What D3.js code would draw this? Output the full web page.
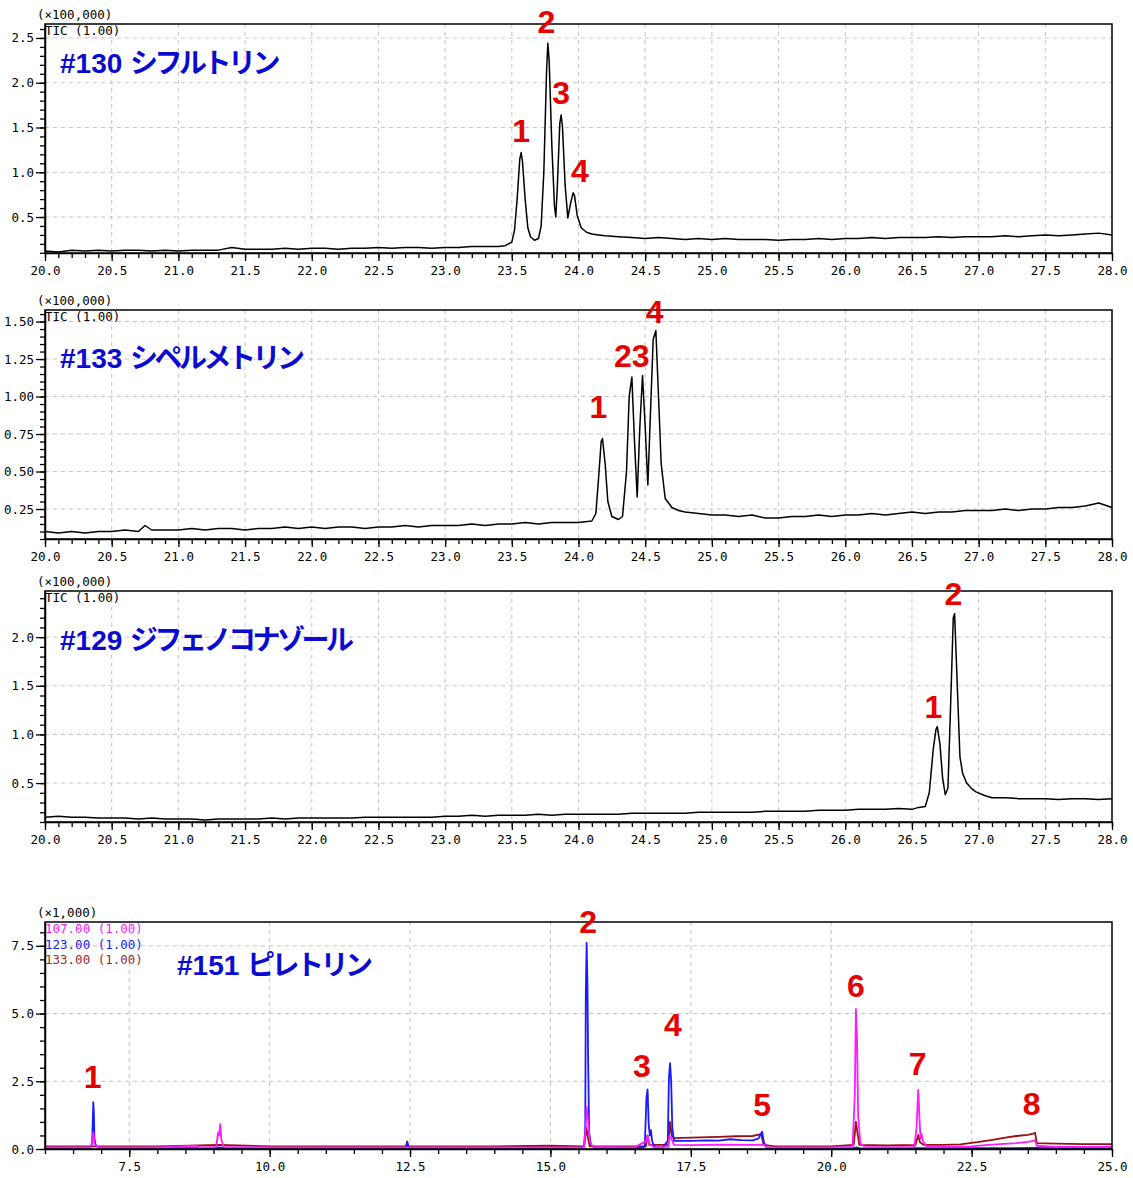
<!DOCTYPE html>
<html>
<head>
<meta charset="utf-8">
<script src="https://cdn.jsdelivr.net/npm/d3@7"></script>
<style>
  body { margin: 0; background: #fff; }
  .tick text, .lab { font-family: "DejaVu Sans Mono", monospace; font-size: 12.5px; fill: #000; }
  .title { font-family: "Liberation Sans", "Noto Sans CJK JP", sans-serif; fill: #0a0ad2; font-weight: bold; }
  .kana { font-family: "Noto Sans CJK JP", sans-serif; font-weight: 700; }
  .peak { font-family: "Liberation Sans", Arial, sans-serif; font-size: 32px; fill: #e60000; font-weight: bold; }
</style>
</head>
<body>
<svg id="chart" width="1133" height="1178"></svg>
<script>
// --- data (time in min, intensity in axis units) ---
const tic130 = [
  [20.0,0.12],[20.1,0.11],[20.2,0.13],[20.3,0.12],[20.4,0.13],[20.5,0.12],[20.6,0.13],[20.7,0.13],
  [20.8,0.12],[20.9,0.13],[21.0,0.12],[21.1,0.13],[21.2,0.13],[21.3,0.13],[21.4,0.16],[21.5,0.14],
  [21.6,0.14],[21.7,0.14],[21.8,0.15],[21.9,0.14],[22.0,0.15],[22.1,0.15],[22.2,0.14],[22.3,0.15],
  [22.4,0.15],[22.5,0.16],[22.6,0.15],[22.7,0.16],[22.8,0.16],[22.9,0.15],[23.0,0.16],[23.1,0.16],
  [23.2,0.17],[23.3,0.17],[23.4,0.17],[23.45,0.18],[23.5,0.22],[23.52,0.35],[23.54,0.70],[23.56,1.15],
  [23.57,1.22],[23.58,1.12],[23.60,0.70],[23.62,0.38],[23.64,0.28],[23.67,0.24],[23.70,0.26],[23.72,0.40],
  [23.74,1.00],[23.76,2.10],[23.77,2.44],[23.78,2.25],[23.80,1.30],[23.82,0.62],[23.83,0.50],[23.84,0.80],
  [23.86,1.55],[23.87,1.64],[23.88,1.50],[23.90,0.85],[23.92,0.49],[23.94,0.65],[23.96,0.77],[23.97,0.74],
  [23.99,0.52],[24.02,0.38],[24.06,0.33],[24.1,0.31],[24.15,0.30],[24.2,0.29],[24.3,0.28],[24.4,0.27],
  [24.5,0.26],[24.6,0.27],[24.7,0.26],[24.8,0.25],[24.9,0.26],[25.0,0.25],[25.1,0.26],[25.2,0.25],
  [25.3,0.25],[25.4,0.25],[25.5,0.24],[25.6,0.25],[25.7,0.25],[25.8,0.26],[25.9,0.25],[26.0,0.26],
  [26.1,0.26],[26.2,0.27],[26.3,0.26],[26.4,0.27],[26.5,0.27],[26.6,0.27],[26.7,0.28],[26.8,0.27],
  [26.9,0.28],[27.0,0.28],[27.1,0.28],[27.2,0.29],[27.3,0.28],[27.4,0.29],[27.5,0.30],[27.6,0.29],
  [27.7,0.30],[27.8,0.31],[27.9,0.32],[28.0,0.30]
];
const tic133 = [
  [20.0,0.10],[20.1,0.09],[20.2,0.10],[20.3,0.09],[20.4,0.10],[20.5,0.10],[20.6,0.11],[20.7,0.10],
  [20.75,0.14],[20.8,0.11],[20.9,0.11],[21.0,0.11],[21.1,0.12],[21.2,0.11],[21.3,0.12],[21.4,0.12],
  [21.5,0.11],[21.6,0.12],[21.7,0.12],[21.8,0.13],[21.9,0.12],[22.0,0.13],[22.1,0.12],[22.2,0.13],
  [22.3,0.13],[22.4,0.12],[22.5,0.13],[22.6,0.13],[22.7,0.14],[22.8,0.13],[22.9,0.14],[23.0,0.14],
  [23.1,0.14],[23.2,0.15],[23.3,0.14],[23.4,0.15],[23.5,0.15],[23.6,0.16],[23.7,0.15],[23.8,0.16],
  [23.9,0.16],[24.0,0.16],[24.1,0.17],[24.13,0.22],[24.15,0.45],[24.17,0.70],[24.18,0.72],[24.2,0.55],
  [24.22,0.30],[24.25,0.20],[24.3,0.18],[24.33,0.20],[24.36,0.50],[24.38,1.00],[24.40,1.13],[24.42,0.70],
  [24.44,0.33],[24.46,0.80],[24.48,1.14],[24.50,0.80],[24.52,0.41],[24.54,0.90],[24.56,1.38],[24.58,1.44],
  [24.60,1.00],[24.62,0.55],[24.65,0.32],[24.7,0.26],[24.75,0.24],[24.8,0.23],[24.9,0.22],[25.0,0.21],
  [25.1,0.21],[25.2,0.20],[25.3,0.21],[25.4,0.19],[25.5,0.19],[25.6,0.20],[25.7,0.20],[25.8,0.21],
  [25.9,0.20],[26.0,0.21],[26.1,0.21],[26.2,0.22],[26.3,0.21],[26.4,0.22],[26.5,0.23],[26.6,0.22],
  [26.7,0.23],[26.8,0.23],[26.9,0.24],[27.0,0.24],[27.1,0.24],[27.2,0.25],[27.3,0.24],[27.4,0.25],
  [27.5,0.25],[27.6,0.26],[27.7,0.26],[27.8,0.27],[27.9,0.29],[28.0,0.26]
];
const tic129 = [
  [20.0,0.15],[20.1,0.16],[20.2,0.15],[20.3,0.15],[20.4,0.14],[20.5,0.14],[20.6,0.14],[20.7,0.13],
  [20.8,0.14],[20.9,0.13],[21.0,0.13],[21.1,0.13],[21.2,0.12],[21.3,0.13],[21.4,0.13],[21.5,0.13],
  [21.6,0.13],[21.7,0.14],[21.8,0.13],[21.9,0.14],[22.0,0.14],[22.1,0.14],[22.2,0.14],[22.3,0.14],
  [22.4,0.15],[22.5,0.15],[22.6,0.15],[22.7,0.15],[22.8,0.15],[22.9,0.15],[23.0,0.16],[23.1,0.16],
  [23.2,0.17],[23.3,0.16],[23.4,0.17],[23.5,0.17],[23.6,0.17],[23.7,0.18],[23.8,0.17],[23.9,0.18],
  [24.0,0.18],[24.1,0.18],[24.2,0.18],[24.3,0.18],[24.4,0.19],[24.5,0.19],[24.6,0.19],[24.7,0.19],
  [24.8,0.19],[24.9,0.20],[25.0,0.20],[25.1,0.20],[25.2,0.20],[25.3,0.20],[25.4,0.21],[25.5,0.21],
  [25.6,0.21],[25.7,0.21],[25.8,0.22],[25.9,0.22],[26.0,0.22],[26.1,0.23],[26.2,0.23],[26.3,0.23],
  [26.4,0.24],[26.5,0.23],[26.55,0.25],[26.6,0.26],[26.63,0.40],[26.66,0.85],[26.68,1.05],[26.69,1.08],
  [26.71,0.90],[26.73,0.55],[26.75,0.38],[26.77,0.45],[26.79,1.30],[26.81,2.20],[26.82,2.24],[26.84,1.50],
  [26.86,0.77],[26.88,0.60],[26.91,0.50],[26.95,0.44],[26.98,0.41],[27.05,0.37],[27.1,0.35],[27.2,0.35],
  [27.3,0.34],[27.4,0.34],[27.5,0.34],[27.6,0.33],[27.7,0.34],[27.8,0.34],[27.9,0.33],[28.0,0.34]
];
const ion133 = [
  [6.0,0.10],[7.0,0.10],[8.0,0.10],[9.1,0.15],[10.0,0.10],[11.0,0.10],[12.0,0.10],[13.0,0.10],
  [14.0,0.10],[15.0,0.12],[15.6,0.10],[15.64,0.80],[15.66,0.50],[15.7,0.10],[16.7,0.10],[16.73,0.50],
  [16.76,0.15],[17.1,0.15],[17.13,1.00],[17.16,0.50],[17.2,0.40],[17.5,0.42],[18.0,0.45],[18.3,0.47],
  [18.6,0.48],[18.75,0.55],[18.8,0.15],[19.0,0.10],[20.0,0.10],[20.4,0.15],[20.44,1.00],[20.46,0.70],
  [20.5,0.15],[21.0,0.13],[21.5,0.15],[21.55,0.52],[21.58,0.25],[21.65,0.15],[22.0,0.15],[22.3,0.17],
  [22.6,0.25],[22.9,0.35],[23.1,0.42],[23.3,0.48],[23.5,0.52],[23.6,0.57],[23.63,0.60],[23.66,0.22],
  [24.0,0.20],[24.5,0.18],[25.0,0.18]
];
const ion123 = [
  [6.0,0.03],[6.3,0.05],[6.5,0.02],[6.7,0.04],[6.82,0.03],[6.84,0.30],[6.86,1.73],[6.87,1.35],
  [6.88,0.40],[6.9,0.15],[6.95,0.06],[7.0,0.04],[7.5,0.03],[8.0,0.04],[8.5,0.03],[9.0,0.03],
  [9.1,0.06],[9.2,0.03],[10.0,0.03],[10.5,0.04],[11.0,0.03],[11.5,0.03],[12.0,0.04],[12.42,0.03],
  [12.45,0.28],[12.48,0.03],[13.0,0.03],[13.5,0.04],[14.0,0.03],[14.5,0.03],[15.0,0.04],[15.5,0.04],
  [15.6,0.08],[15.62,0.80],[15.63,5.80],[15.645,7.61],[15.66,6.00],[15.67,3.50],[15.69,0.60],[15.72,0.15],
  [15.8,0.04],[16.0,0.03],[16.5,0.04],[16.68,0.08],[16.71,1.90],[16.73,2.20],[16.75,0.90],[16.77,0.50],
  [16.79,0.70],[16.81,0.30],[16.85,0.08],[17.0,0.05],[17.09,0.30],[17.11,2.60],[17.13,3.17],[17.15,2.50],
  [17.17,0.80],[17.2,0.30],[17.5,0.30],[17.8,0.32],[18.0,0.31],[18.2,0.36],[18.4,0.33],[18.6,0.32],
  [18.7,0.38],[18.77,0.64],[18.8,0.25],[18.85,0.04],[19.0,0.03],[19.5,0.03],[20.0,0.03],[20.4,0.03],
  [20.45,0.06],[20.5,0.03],[21.0,0.02],[21.5,0.03],[22.0,0.03],[22.5,0.03],[23.0,0.03],[23.6,0.04],
  [24.0,0.03],[24.5,0.03],[25.0,0.03]
];
const ion107 = [
  [6.0,0.06],[6.5,0.06],[6.82,0.06],[6.84,0.30],[6.86,0.60],[6.88,0.20],[6.95,0.06],[7.5,0.06],
  [8.0,0.06],[8.7,0.12],[8.75,0.06],[9.05,0.08],[9.08,0.60],[9.1,0.50],[9.12,0.92],[9.14,0.35],
  [9.18,0.08],[10.0,0.06],[10.5,0.06],[11.0,0.06],[12.0,0.06],[12.5,0.06],[13.0,0.06],[14.0,0.06],
  [15.0,0.06],[15.6,0.06],[15.63,0.90],[15.645,1.55],[15.67,1.10],[15.7,0.30],[15.75,0.08],[16.5,0.06],
  [16.71,0.30],[16.73,0.50],[16.76,0.20],[16.85,0.06],[17.1,0.08],[17.12,0.50],[17.15,0.40],[17.2,0.15],
  [17.5,0.14],[18.0,0.16],[18.5,0.15],[18.8,0.16],[18.85,0.07],[19.5,0.06],[20.0,0.06],[20.38,0.08],
  [20.42,2.00],[20.44,5.17],[20.46,4.00],[20.48,1.20],[20.52,0.20],[20.6,0.08],[21.0,0.06],[21.48,0.08],
  [21.52,0.80],[21.55,2.18],[21.57,1.20],[21.59,0.40],[21.61,0.55],[21.63,0.30],[21.7,0.08],[22.0,0.08],
  [22.5,0.10],[22.8,0.15],[23.0,0.18],[23.3,0.22],[23.5,0.26],[23.6,0.30],[23.63,0.33],[23.66,0.12],
  [24.0,0.08],[24.5,0.08],[25.0,0.08]
];

const titleNums = ["#130", "#133", "#129", "#151"];
const titleNames = ["シフルトリン", "シペルメトリン", "ジフェノコナゾール", "ピレトリン"];
const scaleNotes = ["(×100,000)", "(×100,000)", "(×100,000)", "(×1,000)"];
const ionNames = ["107.00 (1.00)", "123.00 (1.00)", "133.00 (1.00)"];

// peak annotations: [label, time, intensity at label baseline]
const peaks130 = [["1",23.57,1.34],["2",23.76,2.56],["3",23.87,1.76],["4",24.01,0.89]];
const peaks133 = [["1",24.15,0.86],["23",24.40,1.20],["4",24.57,1.49]];
const peaks129 = [["1",26.66,1.17],["2",26.81,2.33]];
const peaks151 = [["1",6.85,2.25],["2",15.67,7.97],["3",16.63,2.66],["4",17.18,4.17],
                  ["5",18.77,1.22],["6",20.44,5.61],["7",21.54,2.73],["8",23.57,1.25]];

const svg = d3.select("#chart");
const left = 45, right = 1112;

function drawPanel(p) {
  const x = d3.scaleLinear().domain(p.xDomain).range([left, right]);
  const y = d3.scaleLinear().domain(p.yDomain).range([p.bottom, p.top]);
  const g = svg.append("g");

  // dashed grid
  g.selectAll(".gx").data(p.xMajor.filter(v => v > p.xDomain[0] && v < p.xDomain[1]))
    .join("line").attr("x1", d => x(d)).attr("x2", d => x(d))
    .attr("y1", p.top).attr("y2", p.bottom)
    .attr("stroke", "#c4c4c4").attr("stroke-dasharray", "4,4");
  g.selectAll(".gy").data(p.yMajor.filter(v => v > p.yDomain[0]))
    .join("line").attr("x1", left).attr("x2", right)
    .attr("y1", d => y(d)).attr("y2", d => y(d))
    .attr("stroke", "#c4c4c4").attr("stroke-dasharray", "4,4");

  // traces
  const line = d3.line().x(d => x(d[0])).y(d => y(d[1]));
  p.traces.forEach(t => {
    g.append("path").datum(t.data).attr("d", line)
      .attr("fill", "none").attr("stroke", t.color)
      .attr("stroke-width", t.width).attr("stroke-linejoin", "round");
  });

  // frame
  g.append("rect").attr("x", left).attr("y", p.top)
    .attr("width", right - left).attr("height", p.bottom - p.top)
    .attr("fill", "none").attr("stroke", "#000").attr("stroke-width", 1.5);

  // axes: minor ticks first, then majors with labels
  g.append("g").attr("transform", `translate(0,${p.bottom})`)
    .call(d3.axisBottom(x).tickValues(p.xMinor).tickSize(5).tickFormat("").tickSizeOuter(0))
    .call(a => a.select(".domain").remove());
  g.append("g").attr("transform", `translate(0,${p.bottom})`)
    .call(d3.axisBottom(x).tickValues(p.xMajor).tickSize(8).tickPadding(5)
      .tickFormat(d3.format(".1f")).tickSizeOuter(0))
    .call(a => a.select(".domain").attr("stroke", "#000").attr("stroke-width", 1.5));
  g.append("g").attr("transform", `translate(${left},0)`)
    .call(d3.axisLeft(y).tickValues(p.yMinor).tickSize(5).tickFormat("").tickSizeOuter(0))
    .call(a => a.select(".domain").remove());
  g.append("g").attr("transform", `translate(${left},0)`)
    .call(d3.axisLeft(y).tickValues(p.yMajor).tickSize(9).tickPadding(2)
      .tickFormat(d3.format(p.yFmt)).tickSizeOuter(0))
    .call(a => a.select(".domain").attr("stroke", "#000").attr("stroke-width", 1.5));
  g.selectAll(".tick line").attr("stroke", "#000").attr("stroke-width", 1.3);
  g.selectAll(".tick text").attr("font-family", null).attr("font-size", null);

  // scale note and trace legend
  g.append("text").attr("class", "lab").attr("x", left - 8).attr("y", p.top - 5).text(p.note);
  p.legend.forEach((l, i) => {
    g.append("text").attr("class", "lab").attr("x", left).attr("y", p.top + 11 + i * 15.5)
      .style("fill", l.color).text(l.text);
  });

  // compound title
  const tt = g.append("text").attr("class", "title").attr("x", p.titleX).attr("y", p.titleY)
    .attr("font-size", 28);
  tt.append("tspan").text(p.num + " ");
  tt.append("tspan").attr("class", "kana").attr("letter-spacing", -3.5).text(p.name);

  // peak numbers
  g.selectAll(".peak").data(p.peaks).join("text").attr("class", "peak")
    .attr("text-anchor", "middle")
    .attr("x", d => x(d[1])).attr("y", d => y(d[2])).text(d => d[0]);
}

const tenths = (a, b) => d3.range(Math.round(a * 10), Math.round(b * 10) + 1).map(v => v / 10);
const halves = (a, b, s) => d3.range(Math.round(a / s), Math.round(b / s) + 1).map(v => +(v * s).toFixed(2));

drawPanel({
  top: 24, bottom: 253, xDomain: [20, 28], yDomain: [0.098, 2.656],
  xMajor: halves(20, 28, 0.5), xMinor: tenths(20, 28),
  yMajor: [0.5, 1.0, 1.5, 2.0, 2.5], yMinor: tenths(0.1, 2.6), yFmt: ".1f",
  traces: [{ data: tic130, color: "#000", width: 1.5 }],
  note: scaleNotes[0], legend: [{ text: "TIC (1.00)", color: "#000" }],
  num: titleNums[0], name: titleNames[0], titleX: 60, titleY: 73, peaks: peaks130
});
drawPanel({
  top: 310, bottom: 539, xDomain: [20, 28], yDomain: [0.05, 1.577],
  xMajor: halves(20, 28, 0.5), xMinor: tenths(20, 28),
  yMajor: [0.25, 0.5, 0.75, 1.0, 1.25, 1.5], yMinor: halves(0.05, 1.55, 0.05), yFmt: ".2f",
  traces: [{ data: tic133, color: "#000", width: 1.5 }],
  note: scaleNotes[1], legend: [{ text: "TIC (1.00)", color: "#000" }],
  num: titleNums[1], name: titleNames[1], titleX: 60, titleY: 368, peaks: peaks133
});
drawPanel({
  top: 591, bottom: 822, xDomain: [20, 28], yDomain: [0.1, 2.474],
  xMajor: halves(20, 28, 0.5), xMinor: tenths(20, 28),
  yMajor: [0.5, 1.0, 1.5, 2.0], yMinor: tenths(0.1, 2.4), yFmt: ".1f",
  traces: [{ data: tic129, color: "#000", width: 1.5 }],
  note: scaleNotes[2], legend: [{ text: "TIC (1.00)", color: "#000" }],
  num: titleNums[2], name: titleNames[2], titleX: 60, titleY: 650, peaks: peaks129
});
drawPanel({
  top: 922, bottom: 1149, xDomain: [6, 25], yDomain: [0, 8.38],
  xMajor: [7.5, 10, 12.5, 15, 17.5, 20, 22.5, 25], xMinor: halves(6, 25, 0.5),
  yMajor: [0, 2.5, 5.0, 7.5], yMinor: halves(0, 8, 0.5), yFmt: ".1f",
  traces: [
    { data: ion133, color: "#9a1010", width: 1.8 },
    { data: ion123, color: "#1a1aff", width: 1.8 },
    { data: ion107, color: "#ff1aff", width: 1.8 }
  ],
  note: scaleNotes[3],
  legend: [
    { text: ionNames[0], color: "#ff20ff" },
    { text: ionNames[1], color: "#2020ff" },
    { text: ionNames[2], color: "#a02828" }
  ],
  num: titleNums[3], name: titleNames[3], titleX: 177, titleY: 975, peaks: peaks151
});
</script>
</body>
</html>
